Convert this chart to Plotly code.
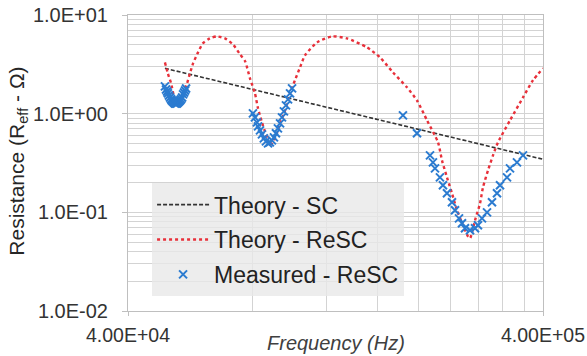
import plotly.graph_objects as go

# ---- data ----
sc_freq = [49100, 80000, 150000, 250000, 400000]
sc_res = [2.88, 1.76, 0.94, 0.556, 0.345]

resc_freq = [49100, 49900, 50800, 51400, 51900, 52800, 53400, 54300, 55500, 56400,
             57400, 59000, 60600, 63000, 65500, 68500, 71600, 74500, 76600, 78700,
             80900, 82300, 84100, 86500, 87900, 90400, 93000, 95600, 98300, 101000,
             103900, 106800, 114200, 124000, 134900, 150600, 161900, 174000, 188000, 198800,
             210200, 223400, 228400, 234800, 241400, 248200, 256600, 263800, 266800, 274300,
             282000, 286700, 294800, 303100, 311600, 333100, 358000, 378400, 400000]
resc_res = [3.31, 2.56, 2.03, 1.61, 1.27, 1.19, 1.27, 1.61, 2.03, 2.56,
            3.23, 4.18, 5.16, 5.79, 6.07, 5.79, 5.04, 3.99, 3.39, 2.28,
            1.61, 1.13, 0.816, 0.575, 0.477, 0.562, 0.798, 1.08, 1.61, 2.18,
            2.95, 3.90, 5.28, 6.07, 5.79, 4.70, 3.72, 2.62, 1.85, 1.36,
            0.855, 0.512, 0.336, 0.226, 0.156, 0.105, 0.0739, 0.0571, 0.0545, 0.0830,
            0.123, 0.179, 0.266, 0.378, 0.512, 0.855, 1.46, 2.18, 2.88]

meas_freq = [49100, 49400, 49700, 49900, 50200, 50500, 50800, 51000, 51300, 51600,
             51900, 52200, 52500, 52800, 53100, 53400, 53700, 54000, 54300, 54600,
             54900, 55200,
             80000, 80900, 81800, 82300, 83200, 84100, 85000, 86000, 87000, 87900,
             88900, 89900, 90900, 91900, 93000, 94000, 95000, 96100, 97200, 98300, 99400,
             183900, 198800,
             213700, 217200, 219700, 225800, 229600, 234800, 241400, 245500, 251000, 255200,
             259500, 266800, 274300, 278800, 285100, 293200, 301400, 309900, 315100, 327600,
             333100, 346200, 358000]
meas_res = [1.89, 1.76, 1.68, 1.61, 1.53, 1.46, 1.40, 1.36, 1.33, 1.30,
            1.27, 1.27, 1.27, 1.30, 1.33, 1.36, 1.40, 1.46, 1.57, 1.64,
            1.72, 1.80,
            1.007, 0.917, 0.816, 0.744, 0.677, 0.617, 0.562, 0.524, 0.500, 0.512,
            0.536, 0.575, 0.632, 0.710, 0.798, 0.917, 1.055, 1.214, 1.396, 1.606, 1.804,
            0.961, 0.632,
            0.378, 0.321, 0.279, 0.226, 0.188, 0.1558, 0.1263, 0.1048, 0.0869, 0.0774,
            0.0689, 0.0657, 0.0689, 0.0739, 0.0869, 0.0999, 0.1263, 0.1558, 0.188, 0.226,
            0.279, 0.321, 0.378]

x_tick_vals = [40000, 400000]
x_tick_text = ["4.00E+04", "4.00E+05"]
x_minor_vals = [80000, 120000, 160000, 200000, 240000, 280000, 320000, 360000]

y_tick_vals = [0.01, 0.1, 1, 10]
y_tick_text = ["1.0E-02", "1.0E-01", "1.0E+00", "1.0E+01"]
y_minor_vals = [m * d for d in [0.01, 0.1, 1] for m in range(2, 10)]

FONT = "Liberation Sans, Arial, sans-serif"
GRID = "#d3d3d3"

fig = go.Figure()
fig.add_trace(go.Scatter(
    x=sc_freq, y=sc_res, mode="lines", name="Theory - SC", legendgroup="a",
    line=dict(color="#333333", width=1.6, dash="4px,2px")))
fig.add_trace(go.Scatter(
    x=resc_freq, y=resc_res, mode="lines", name="Theory - ReSC", legendgroup="b",
    line=dict(color="#e8303a", width=2.4, dash="dot", shape="spline", smoothing=0.6)))
fig.add_trace(go.Scatter(
    x=meas_freq, y=meas_res, mode="markers", name="Measured - ReSC", legendgroup="c",
    marker=dict(symbol="x-thin", size=8, color="#2b7bd0",
                line=dict(width=2, color="#2b7bd0"))))

fig.update_layout(
    width=587, height=356,
    margin=dict(l=128, r=44, t=15, b=45),
    paper_bgcolor="white", plot_bgcolor="white",
    font=dict(family=FONT, color="#333333"),
    showlegend=True,
    legend=dict(
        x=0.058, y=0.432, xanchor="left", yanchor="top",
        bgcolor="rgba(232,232,232,0.8)", borderwidth=0,
        font=dict(size=23, family=FONT, color="#222222"),
        tracegroupgap=2, traceorder="grouped", itemwidth=52,
    ),
    xaxis=dict(
        type="log", range=[4.60206, 5.60206], automargin=False,
        tickmode="array", tickvals=x_tick_vals, ticktext=x_tick_text,
        tickfont=dict(size=19.5, family=FONT, color="#333333"),
        ticks="outside", ticklen=4, tickcolor="#bfbfbf", ticklabelstandoff=3,
        showgrid=True, gridcolor=GRID, gridwidth=1,
        showline=True, linecolor="#bfbfbf", linewidth=1, mirror=True,
        minor=dict(tickvals=x_minor_vals, showgrid=True, gridcolor=GRID, gridwidth=1, ticks=""),
        zeroline=False,
    ),
    yaxis=dict(
        type="log", range=[-2, 1], automargin=False,
        tickmode="array", tickvals=y_tick_vals, ticktext=y_tick_text,
        tickfont=dict(size=20, family=FONT, color="#333333"),
        ticks="outside", ticklen=5, tickcolor="#bfbfbf", ticklabelstandoff=10,
        showgrid=True, gridcolor=GRID, gridwidth=1,
        showline=True, linecolor="#bfbfbf", linewidth=1, mirror=True,
        minor=dict(tickvals=y_minor_vals, showgrid=True, gridcolor=GRID, gridwidth=1, ticks=""),
        zeroline=False,
    ),
    annotations=[
        dict(text="Resistance (R<sub>eff</sub> - Ω)", xref="paper", yref="paper",
             x=-0.267, y=0.505, xanchor="center", yanchor="middle", textangle=-90,
             showarrow=False, font=dict(size=21, family=FONT, color="#262626")),
        dict(text="<i>Frequency (Hz)</i>", xref="paper", yref="paper",
             x=0.5, y=-0.108, xanchor="center", yanchor="middle",
             showarrow=False, font=dict(size=20, family=FONT, color="#404040")),
    ],
)

fig.write_html("out.html", config={"displayModeBar": False},
               post_script="document.body.style.margin='0px';")
